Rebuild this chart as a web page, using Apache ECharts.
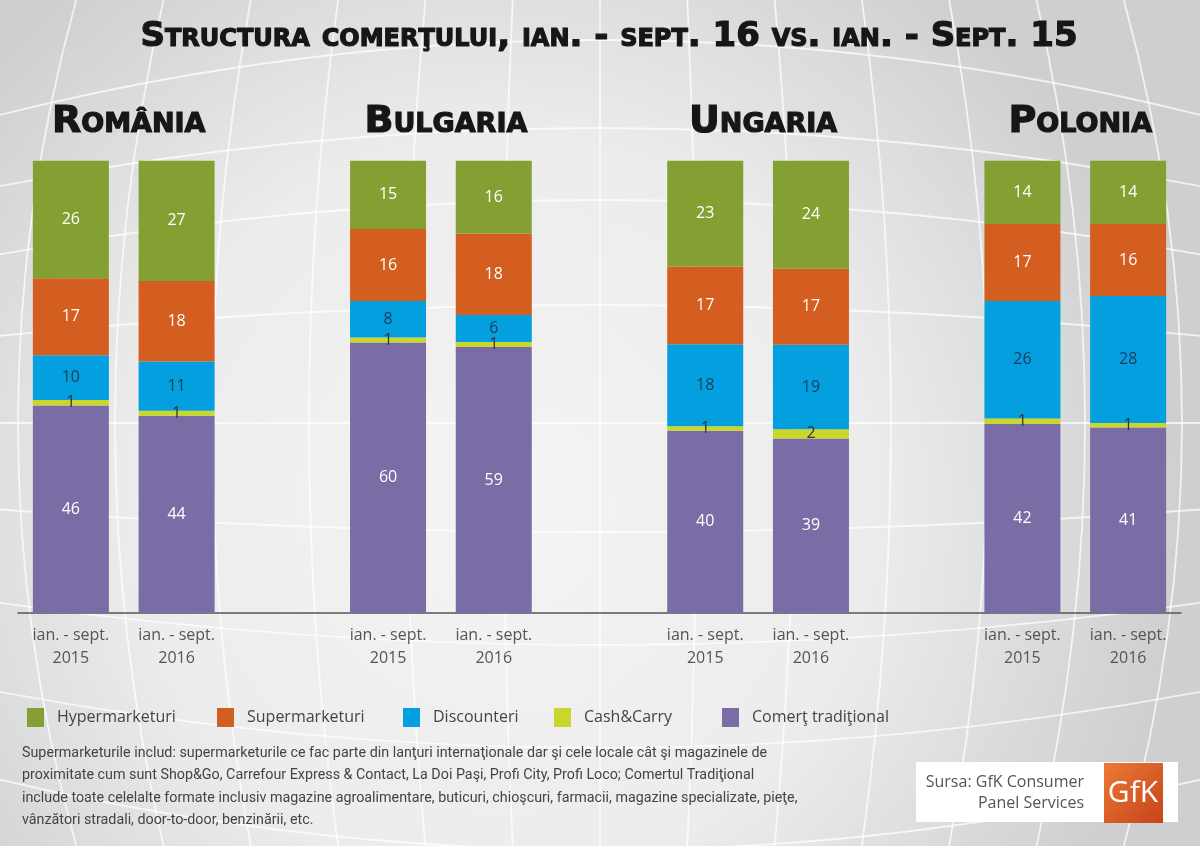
<!DOCTYPE html>
<html>
<head>
<meta charset="utf-8">
<script src="https://cdn.jsdelivr.net/npm/echarts@6/dist/echarts.min.js"></script>
<style>html,body{margin:0;padding:0;}#c{width:1200px;height:846px;}</style>
</head>
<body>
<div id="c"></div>
<script>
// ---- data ----
const categories = ['ian. - sept.\n2015','ian. - sept.\n2016','','ian. - sept.\n2015','ian. - sept.\n2016','','ian. - sept.\n2015','ian. - sept.\n2016','','ian. - sept.\n2015','ian. - sept.\n2016'];
const countries = ['România','Bulgaria','Ungaria','Polonia'];
const seriesNames = ['Hypermarketuri','Supermarketuri','Discounteri','Cash&Carry','Comerţ tradiţional'];
const hyper = [26.0, 26.7, null, 15.1, 16.1, null, 23.4, 23.9, null, 14.0, 14.0];
const superm = [17.0, 17.8, null, 15.9, 18.0, null, 17.2, 16.8, null, 17.0, 15.9];
const disc = [9.9, 10.9, null, 8.1, 6.0, null, 18.1, 18.7, null, 26.0, 28.1];
const cash = [1.2, 1.1, null, 1.1, 1.1, null, 1.0, 2.0, null, 1.2, 1.0];
const trad = [45.9, 43.6, null, 59.8, 58.8, null, 40.3, 38.6, null, 41.8, 41.0];
const titleText = 'Structura comerţului, ian. - sept. 16 vs. ian. - Sept. 15';
const footnote = 'Supermarketurile includ: supermarketurile ce fac parte din lanţuri internaţionale dar şi cele locale cât şi magazinele de\nproximitate cum sunt Shop&Go, Carrefour Express & Contact, La Doi Paşi, Profi City, Profi Loco; Comertul Tradiţional\ninclude toate celelalte formate inclusiv magazine agroalimentare, buticuri, chioşcuri, farmacii, magazine specializate, pieţe,\nvânzători stradali, door-to-door, benzinării, etc.';
const sourceLines = ['Sursa: GfK Consumer', 'Panel Services'];

// ---- style ----
const colors = ['#85a032', '#d35e1f', '#049fde', '#c9d62c', '#7a6ca5'];
const labelColors = ['#ffffff', '#ffffff', '#1d3a5a', '#333333', '#ffffff'];
const seriesData = [hyper, superm, disc, cash, trad];
const noteFont = "Roboto, 'Open Sans', sans-serif";
const numFont = "'Open Sans', sans-serif";
const headFont = "'DejaVu Sans', sans-serif";

const gridLeft = 18, gridRight = 19, gridTop = 160.7, gridBottom = 233;
const catW = (1200 - gridLeft - gridRight) / categories.length;

const chart = echarts.init(document.getElementById('c'), null, {renderer: 'canvas'});

// decorative globe lines
const deco = [];
const lat = [[40, 80], [128, 62], [200, 58], [305, 33], [423, 0], [532, -24], [645, -45], [748, -60], [850, -75]];
lat.forEach(([yc, d]) => deco.push({type: 'bezierCurve', z: 0, silent: true,
  shape: {x1: -20, y1: yc + d, cpx1: 600, cpy1: yc - d, x2: 1220, y2: yc + d},
  style: {stroke: 'rgba(255,255,255,0.72)', lineWidth: 1.8, fill: null}}));
for (let n = -6; n <= 6; n++) {
  const e = n * 97, s = 0.9;
  deco.push({type: 'bezierCurve', z: 0, silent: true,
    shape: {x1: 600 + e * s, y1: 0, cpx1: 600 + e * (2 - s), cpy1: 423, x2: 600 + e * s, y2: 846},
    style: {stroke: 'rgba(255,255,255,0.72)', lineWidth: 1.8, fill: null}});
}

const legends = seriesNames.map((n, i) => ({
  data: [n], left: [22, 212, 398, 549, 717][i], top: 703,
  itemWidth: 17, itemHeight: 19, icon: 'rect',
  textStyle: {fontFamily: numFont, fontSize: 16, color: '#444', padding: [0, 0, 0, 8]},
  selectedMode: false
}));

const headStyle = size => ({fontFamily: headFont, fontWeight: 'bold', fontStyle: 'normal small-caps', fontSize: size,
  color: '#161616', textBorderColor: '#161616', textBorderWidth: 1.2});

const titles = [{
  text: titleText, left: 604, top: 15, textAlign: 'center', textStyle: headStyle(34)
}].concat(countries.map((c, i) => ({
  text: c, left: gridLeft + catW * (1 + 3 * i), top: 98, textAlign: 'center', textStyle: headStyle(38)
})));

// stack from bottom: traditional first, hypermarkets on top
const stackOrder = [4, 3, 2, 1, 0];

const option = {
  animation: false,
  backgroundColor: {type: 'radial', x: 0.42, y: 0.6, r: 0.8,
    colorStops: [{offset: 0, color: '#f4f4f4'}, {offset: 0.55, color: '#ececec'}, {offset: 1, color: '#cdcfd1'}]},
  title: titles,
  legend: legends,
  grid: {left: gridLeft, right: gridRight, top: gridTop, bottom: gridBottom, containLabel: false},
  xAxis: {
    type: 'category', data: categories,
    axisLine: {lineStyle: {color: '#555', width: 1.5}},
    axisTick: {length: 14, lineStyle: {color: '#555', width: 1.5}},
    axisLabel: {color: '#555', fontFamily: numFont, fontSize: 16, lineHeight: 23, margin: 11, interval: 0}
  },
  yAxis: {type: 'value', min: 0, max: 100, show: false, splitLine: {show: false}},
  series: stackOrder.map(i => ({
    name: seriesNames[i], type: 'bar', stack: 'total', data: seriesData[i], barWidth: 76,
    itemStyle: {color: colors[i]}, z: 3,
    label: {show: true, position: 'inside', color: labelColors[i], fontFamily: numFont, fontSize: 16,
      formatter: p => (p.value == null ? '' : String(Math.round(p.value)))}
  })),
  graphic: deco.concat([
    {type: 'text', left: 22, top: 742, z: 5,
      style: {text: footnote, fontFamily: noteFont, fontSize: 14.3, lineHeight: 22.5, fill: '#444'}},
    {type: 'rect', z: 5, shape: {x: 916, y: 762, width: 262, height: 60}, style: {fill: '#ffffff'}},
    {type: 'text', z: 6, style: {x: 1084, y: 772, text: sourceLines.join('\n'), textAlign: 'right',
      fontFamily: numFont, fontSize: 16, lineHeight: 21, fill: '#555'}},
    {type: 'rect', z: 6, shape: {x: 1104, y: 763, width: 59, height: 60},
      style: {fill: {type: 'linear', x: 0, y: 0, x2: 1, y2: 1,
        colorStops: [{offset: 0, color: '#ec7a36'}, {offset: 1, color: '#c6431a'}]}}},
    {type: 'text', z: 7, style: {x: 1133, y: 793, text: 'GfK', textAlign: 'center', textVerticalAlign: 'middle',
      fontFamily: numFont, fontSize: 30, fill: '#ffffff'}}
  ])
};
chart.setOption(option);
</script>
</body>
</html>
